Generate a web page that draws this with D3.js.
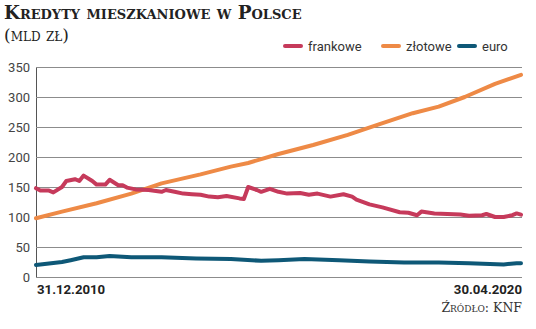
<!DOCTYPE html>
<html>
<head>
<meta charset="utf-8">
<script src="https://cdn.jsdelivr.net/npm/d3@7"></script>
<style>
  html, body { margin: 0; padding: 0; background: #fff; }
  svg { display: block; }
</style>
</head>
<body>
<svg id="chart" width="536" height="329"></svg>
<script>
// Housing loans in Poland by currency, bn PLN (month index 0 = Dec 2010)
const frankowe = [[0,148],[1,144],[3,144],[4,141],[6,150],[7,160],[9,163],[10,160],[11,169],[13,160],[14,154],[16,154],[17,162],[19,153],[20,153],[21,149],[23,146],[26,145],[29,142],[30,145],[32,142],[34,139],[36,138],[38,137],[40,134],[42,133],[44,135],[47,131],[48,130],[49,150],[51,145],[52,142],[54,147],[56,142],[58,139],[61,140],[63,137],[65,139],[68,134],[71,138],[73,134],[74,129],[77,121],[80,116],[84,108],[86,107],[88,103],[89,109],[92,106],[95,105],[98,104],[100,102],[103,103],[104,105],[106,100],[108,100],[110,103],[111,106],[112,104]];
const zlotowe = [[0,98],[6,109],[14,123],[22,139],[29,156],[38,171],[45,184],[49,190],[56,205],[64,220],[72,237],[79,254],[87,273],[93,284],[99,300],[106,322],[112,337]];
const euro = [[0,20],[6,25],[8,28],[11,33],[14,33],[17,35],[22,33],[29,33],[37,31],[45,30],[52,27],[56,28],[62,30],[70,28],[77,26],[85,24],[93,24],[100,23],[108,21],[111,23],[112,23]];

const seriesNames = ["frankowe", "złotowe", "euro"];
const seriesColors = ["#c63a5b", "#ee8a46", "#0e5877"];
const yTicks = [0, 50, 100, 150, 200, 250, 300, 350];
const xTickLabels = ["31.12.2010", "30.04.2020"];

const svg = d3.select("#chart");
const x = d3.scaleLinear().domain([0, 112]).range([36, 521]);
const y = d3.scaleLinear().domain([0, 350]).range([277, 67]);

const sans = "'Liberation Sans Narrow', 'Roboto', sans-serif";
const serif = "'DejaVu Serif', 'Liberation Serif', serif";

// Title
svg.append("text").attr("x", 4).attr("y", 19)
  .attr("font-family", serif).attr("font-weight", "bold").attr("font-size", 18.3)
  .style("font-variant", "small-caps").attr("fill", "#222")
  .text("Kredyty mieszkaniowe w Polsce");
svg.append("text").attr("x", 4).attr("y", 41)
  .attr("font-family", serif).attr("font-size", 17)
  .style("font-variant", "small-caps").attr("fill", "#222")
  .text("(mld zł)");

// Grid lines and y axis labels
const yAxis = d3.axisLeft(y).tickValues(yTicks).tickSize(-(x.range()[1] - x.range()[0] + 1)).tickPadding(6);
const gy = svg.append("g").attr("transform", `translate(${x.range()[0]},0)`).call(yAxis);
gy.select(".domain").attr("stroke", "#555").attr("stroke-width", 1);
gy.selectAll(".tick line").attr("stroke", "#8c8c8c").attr("stroke-width", 1);
gy.selectAll(".tick text").attr("font-family", sans).attr("font-size", 13).attr("fill", "#444");

// Series lines
const line = d3.line().x(d => x(d[0])).y(d => y(d[1])).curve(d3.curveLinear);
[[zlotowe, 1], [euro, 2], [frankowe, 0]].forEach(([data, idx]) => {
  svg.append("path").datum(data).attr("d", line)
    .attr("fill", "none").attr("stroke", seriesColors[idx])
    .attr("stroke-width", 4).attr("stroke-linejoin", "round").attr("stroke-linecap", "round");
});

// x axis end labels
svg.append("text").attr("x", x(0) + 1).attr("y", 294)
  .attr("font-family", sans).attr("font-weight", "bold").attr("font-size", 13.2).attr("fill", "#222")
  .text(xTickLabels[0]);
svg.append("text").attr("x", x(112) + 1).attr("y", 294).attr("text-anchor", "end")
  .attr("font-family", sans).attr("font-weight", "bold").attr("font-size", 13.2).attr("fill", "#222")
  .text(xTickLabels[1]);

// Source
svg.append("text").attr("x", 522).attr("y", 312).attr("text-anchor", "end")
  .attr("font-family", serif).attr("font-size", 12.5).style("font-variant", "small-caps").attr("fill", "#333")
  .text("Źródło: KNF");

// Legend
const legendX = [285, 383, 459];
seriesNames.forEach((name, i) => {
  const g = svg.append("g").attr("transform", `translate(${legendX[i]},46)`);
  g.append("line").attr("x1", 0).attr("x2", 16).attr("y1", 0).attr("y2", 0)
    .attr("stroke", seriesColors[i]).attr("stroke-width", 4).attr("stroke-linecap", "round");
  g.append("text").attr("x", 23).attr("y", 5)
    .attr("font-family", sans).attr("font-size", 13).attr("fill", "#333").text(name);
});
</script>
</body>
</html>
